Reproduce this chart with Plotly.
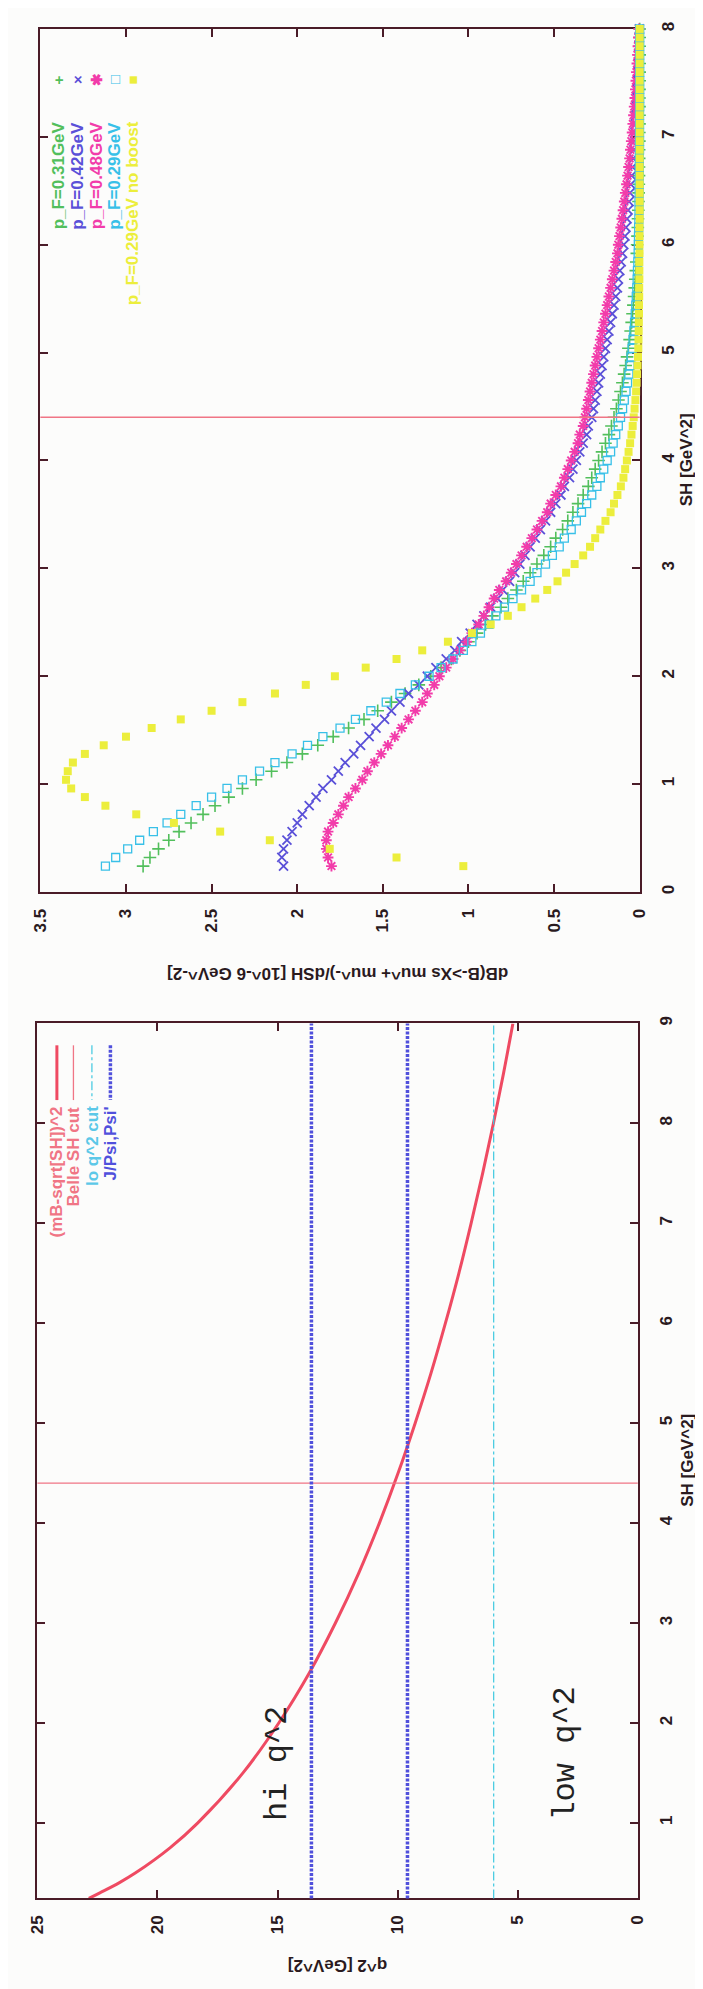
import plotly.graph_objects as go

W, H = 703, 1989

# ---------------- data: top panel (dB/dSH vs SH) ----------------
sh_top = [0.24, 0.32, 0.40, 0.48, 0.56, 0.64, 0.72, 0.80, 0.88, 0.96,
          1.04, 1.12, 1.20, 1.28, 1.36, 1.44, 1.52, 1.60, 1.68, 1.76,
          1.84, 1.92, 2.00, 2.08, 2.16, 2.24, 2.32, 2.40, 2.48, 2.56,
          2.64, 2.72, 2.80, 2.88, 2.96, 3.04, 3.12, 3.20, 3.28, 3.36,
          3.44, 3.52, 3.60, 3.68, 3.76, 3.84, 3.92, 4.00, 4.08, 4.16,
          4.24, 4.32, 4.40, 4.48, 4.56, 4.64, 4.72, 4.80, 4.88, 4.96,
          5.04, 5.12, 5.20, 5.28, 5.36, 5.44, 5.52, 5.60, 5.68, 5.76,
          5.84, 5.92, 6.00, 6.08, 6.16, 6.24, 6.32, 6.40, 6.48, 6.56,
          6.64, 6.72, 6.80, 6.88, 6.96, 7.04, 7.12, 7.20, 7.28, 7.36,
          7.44, 7.52, 7.60, 7.68, 7.76, 7.84, 7.92, 8.00]

db_pf031 = [2.90, 2.86, 2.81, 2.75, 2.69, 2.62, 2.55, 2.48, 2.40, 2.32,
            2.24, 2.15, 2.06, 1.97, 1.88, 1.79, 1.70, 1.61, 1.53, 1.45,
            1.37, 1.29, 1.22, 1.16, 1.10, 1.05, 1.00, 0.95, 0.90, 0.86,
            0.81, 0.77, 0.72, 0.68, 0.64, 0.60, 0.56, 0.52, 0.49, 0.45,
            0.42, 0.39, 0.36, 0.33, 0.30, 0.28, 0.26, 0.24, 0.22, 0.20,
            0.18, 0.165, 0.15, 0.136, 0.124, 0.112, 0.101, 0.091, 0.082, 0.074,
            0.066, 0.059, 0.053, 0.047, 0.042, 0.037, 0.033, 0.029, 0.026, 0.023,
            0.020, 0.017, 0.015, 0.013, 0.011, 0.010, 0.008, 0.007, 0.006, 0.005,
            0.004, 0.004, 0.003, 0.003, 0.002, 0.002, 0.001, 0.001, 0.001, 0.001,
            0.001, 0.0, 0.0, 0.0, 0.0, 0.0, 0.0, 0.0]

db_pf042 = [2.08, 2.09, 2.08, 2.06, 2.03, 2.00, 1.97, 1.93, 1.89, 1.85,
            1.80, 1.76, 1.72, 1.67, 1.63, 1.58, 1.54, 1.49, 1.45, 1.40,
            1.35, 1.29, 1.24, 1.19, 1.13, 1.08, 1.04, 0.99, 0.95, 0.91,
            0.87, 0.83, 0.80, 0.76, 0.73, 0.70, 0.67, 0.64, 0.61, 0.58,
            0.55, 0.52, 0.49, 0.46, 0.44, 0.41, 0.39, 0.37, 0.35, 0.33,
            0.31, 0.30, 0.28, 0.27, 0.26, 0.25, 0.24, 0.23, 0.22, 0.21,
            0.20, 0.19, 0.18, 0.17, 0.16, 0.15, 0.14, 0.13, 0.124, 0.116,
            0.108, 0.100, 0.093, 0.086, 0.080, 0.074, 0.068, 0.062, 0.057, 0.052,
            0.047, 0.042, 0.038, 0.034, 0.030, 0.027, 0.024, 0.021, 0.018, 0.016,
            0.014, 0.012, 0.010, 0.008, 0.006, 0.005, 0.003, 0.002]

db_pf048 = [1.80, 1.82, 1.83, 1.83, 1.82, 1.79, 1.76, 1.73, 1.70, 1.66,
            1.62, 1.59, 1.55, 1.51, 1.47, 1.43, 1.39, 1.35, 1.31, 1.27,
            1.24, 1.20, 1.17, 1.13, 1.09, 1.05, 1.01, 0.98, 0.94, 0.91,
            0.88, 0.85, 0.82, 0.78, 0.75, 0.72, 0.69, 0.66, 0.63, 0.60,
            0.57, 0.54, 0.52, 0.49, 0.46, 0.44, 0.42, 0.40, 0.38, 0.36,
            0.35, 0.33, 0.32, 0.31, 0.30, 0.29, 0.28, 0.27, 0.26, 0.25,
            0.24, 0.23, 0.22, 0.21, 0.20, 0.19, 0.18, 0.17, 0.16, 0.15,
            0.14, 0.13, 0.125, 0.118, 0.111, 0.104, 0.097, 0.090, 0.084, 0.077,
            0.071, 0.065, 0.059, 0.054, 0.049, 0.044, 0.040, 0.036, 0.032, 0.028,
            0.025, 0.022, 0.019, 0.016, 0.013, 0.010, 0.007, 0.004]

db_pf029 = [3.12, 3.06, 2.99, 2.92, 2.84, 2.76, 2.68, 2.59, 2.50, 2.41,
            2.32, 2.22, 2.13, 2.03, 1.94, 1.85, 1.75, 1.66, 1.57, 1.48,
            1.40, 1.31, 1.23, 1.16, 1.09, 1.03, 0.98, 0.93, 0.88, 0.84,
            0.79, 0.74, 0.69, 0.64, 0.60, 0.55, 0.51, 0.47, 0.44, 0.40,
            0.37, 0.34, 0.31, 0.28, 0.25, 0.23, 0.21, 0.19, 0.17, 0.155,
            0.14, 0.125, 0.112, 0.10, 0.09, 0.08, 0.071, 0.063, 0.056, 0.050,
            0.044, 0.039, 0.034, 0.030, 0.026, 0.023, 0.020, 0.017, 0.015, 0.013,
            0.011, 0.009, 0.008, 0.007, 0.006, 0.005, 0.004, 0.004, 0.003, 0.003,
            0.002, 0.002, 0.002, 0.001, 0.001, 0.001, 0.001, 0.001, 0.0, 0.0,
            0.0, 0.0, 0.0, 0.0, 0.0, 0.0, 0.0, 0.0]

db_pf029_noboost = [1.03, 1.42, 1.81, 2.16, 2.45, 2.72, 2.94, 3.12, 3.24, 3.32,
                    3.35, 3.34, 3.31, 3.24, 3.13, 3.00, 2.85, 2.68, 2.50, 2.32,
                    2.13, 1.95, 1.78, 1.60, 1.42, 1.27, 1.12, 0.98, 0.87, 0.77,
                    0.69, 0.61, 0.54, 0.48, 0.43, 0.38, 0.33, 0.29, 0.26, 0.23,
                    0.20, 0.17, 0.15, 0.13, 0.11, 0.095, 0.085, 0.075, 0.065, 0.056,
                    0.048, 0.041, 0.035, 0.030, 0.025, 0.021, 0.018, 0.015, 0.012, 0.010,
                    0.008, 0.007, 0.006, 0.005, 0.004, 0.004, 0.003, 0.003, 0.002, 0.002,
                    0.002, 0.001, 0.001, 0.001, 0.001, 0.0, 0.0, 0.0, 0.0, 0.0,
                    0.0, 0.0, 0.0, 0.0, 0.0, 0.0, 0.0, 0.0, 0.0, 0.0,
                    0.0, 0.0, 0.0, 0.0, 0.0, 0.0, 0.0, 0.0]

top_labels = ["p_F=0.31GeV", "p_F=0.42GeV", "p_F=0.48GeV", "p_F=0.29GeV", "p_F=0.29GeV no boost"]

# ---------------- data: bottom panel (q^2 vs SH) ----------------
sh_kin = [0.244, 0.30, 0.40, 0.50, 0.75, 1.0, 1.5, 2.0, 2.5, 3.0, 3.5,
          4.0, 4.5, 5.0, 5.5, 6.0, 6.5, 7.0, 7.5, 8.0, 8.5, 9.0]
q2_kin = [22.86, 22.40, 21.60, 20.91, 19.48, 18.32, 16.44, 14.95, 13.68, 12.59, 11.62,
          10.76, 9.98, 9.27, 8.61, 8.01, 7.45, 6.94, 6.46, 6.01, 5.59, 5.20]
belle_sh_cut = 4.4
lo_q2_cut = 6.0
charmonium_q2 = [9.59, 13.59]
bottom_labels = ["(mB-sqrt[SH])^2", "Belle SH cut", "lo q^2 cut", "J/Psi,Psi'"]

db_ticks = [0, 0.5, 1, 1.5, 2, 2.5, 3, 3.5]
q2_ticks = [0, 5, 10, 15, 20, 25]

# ---------------- style ----------------
FRAME = "#4a1c28"
TXT = "#2a1a1e"
BG = "#fcfcfb"
C_GREEN = "#52bf5c"
C_BLUE = "#5a50d8"
C_MAG = "#f23caa"
C_CYAN = "#38c0e8"
C_YEL = "#ecee3c"
C_RED = "#ef4a62"
C_BELLE = "#f07585"
C_LOCUT = "#3ec8e0"
C_JPSI = "#5050dc"
FONT = "Liberation Sans"


def px(x):
    return x / W


def py(y):
    return 1 - y / H


fig = go.Figure()

series = [
    (db_pf031, top_labels[0], C_GREEN, "cross-thin-open", 9, 1.6),
    (db_pf042, top_labels[1], C_BLUE, "x-thin-open", 9, 1.8),
    (db_pf048, top_labels[2], C_MAG, "asterisk-open", 9, 1.9),
    (db_pf029, top_labels[3], C_CYAN, "square-open", 8, 1.3),
    (db_pf029_noboost, top_labels[4], C_YEL, "square", 8, 0),
]
for vals, name, col, sym, size, lw in series:
    fig.add_trace(go.Scatter(
        x=vals, y=sh_top, mode="markers", name=name, xaxis="x", yaxis="y",
        cliponaxis=False,
        marker=dict(symbol=sym, size=size, color=col, line=dict(color=col, width=lw)),
    ))

fig.add_trace(go.Scatter(
    x=q2_kin, y=sh_kin, mode="lines", name=bottom_labels[0], xaxis="x2", yaxis="y2",
    line=dict(color=C_RED, width=3, shape="spline"),
))

tickfont = dict(family=FONT, size=17, color=TXT, weight="bold")
common = dict(showline=True, linecolor=FRAME, linewidth=2, mirror="ticks",
              ticks="inside", ticklen=8, tickwidth=2, tickcolor=FRAME,
              showgrid=False, zeroline=False, tickangle=-90, tickfont=tickfont)

fig.update_layout(
    width=W, height=H, margin=dict(l=0, r=0, t=0, b=0),
    paper_bgcolor=BG, plot_bgcolor=BG, showlegend=False,
    xaxis=dict(domain=[px(24), px(640)], range=[3.5, 0], anchor="y",
               tickvals=db_ticks, ticklabelstandoff=8, layer="below traces", **common),
    yaxis=dict(domain=[py(881), py(14)], range=[0, 8], anchor="x", side="right",
               dtick=1, ticklabelstandoff=12, layer="below traces", **common),
    xaxis2=dict(domain=[px(21), px(638)], range=[25, 0], anchor="y2",
                tickvals=q2_ticks, ticklabelstandoff=8, **common),
    yaxis2=dict(domain=[py(1892), py(1013)], range=[sh_kin[0], 9], anchor="x2", side="right",
                tickvals=[1, 2, 3, 4, 5, 6, 7, 8, 9], ticklabelstandoff=12, **common),
)

shapes = []
shapes.append(dict(type="line", xref="x domain", x0=0, x1=1, yref="y",
                   y0=belle_sh_cut, y1=belle_sh_cut, line=dict(color=C_BELLE, width=1.4)))
shapes.append(dict(type="line", xref="x2 domain", x0=0, x1=1, yref="y2",
                   y0=belle_sh_cut, y1=belle_sh_cut, line=dict(color=C_BELLE, width=1.4)))
shapes.append(dict(type="line", xref="x2", x0=lo_q2_cut, x1=lo_q2_cut, yref="y2 domain",
                   y0=0, y1=1, line=dict(color=C_LOCUT, width=1.2, dash="dashdot")))
for q in charmonium_q2:
    shapes.append(dict(type="line", xref="x2", x0=q, x1=q, yref="y2 domain",
                       y0=0, y1=1, line=dict(color=C_JPSI, width=3.5, dash="3px,1.5px")))

leg_b = [(41, C_RED, 3, "solid"), (58, C_BELLE, 1.3, "solid"),
         (77, C_LOCUT, 1.2, "dashdot"), (96, C_JPSI, 3.5, "3px,1.5px")]
for x, col, w, d in leg_b:
    shapes.append(dict(type="line", xref="paper", yref="paper", x0=px(x), x1=px(x),
                       y0=py(1035), y1=py(1090), line=dict(color=col, width=w, dash=d)))

fig.update_layout(shapes=shapes)

ann = []


def A(text, x, y, angle, size=17, color=TXT, weight="bold", xa="center", ya="middle",
      family=FONT, xref="paper", yref="paper"):
    d = dict(text=text, showarrow=False, textangle=angle, xanchor=xa, yanchor=ya,
             font=dict(family=family, size=size, color=color, weight=weight),
             xref=xref, yref=yref)
    if xref == "paper":
        d["x"] = px(x)
        d["y"] = py(y)
    else:
        d["x"] = x
        d["y"] = y
    return d


ann.append(A("dB(B-&gt;Xs mu^+ mu^-)/dSH [10^-6 GeV^-2]", 330, 963, 180, size=17))
ann.append(A("SH [GeV^2]", 689, 447, -90, size=17))
ann.append(A("SH [GeV^2]", 689, 1452, -90, size=17))
ann.append(A("q^2 [GeV^2]", 330, 1960, 180, size=17))

top_cols = [43, 62, 82, 100, 119]
top_syms = ["+", "×", "✱", "□", "■"]
top_cols_c = [C_GREEN, C_BLUE, C_MAG, C_CYAN, C_YEL]
for x, s, c, t in zip(top_cols, top_syms, top_cols_c, top_labels):
    ann.append(A(s, x, 65, -90, size=15, color=c))
    ann.append(A(t, x, 105, -90, size=17, color=c, ya="top"))

bot_cols = [41, 58, 77, 96]
bot_cols_c = [C_BELLE, C_BELLE, "#5cc8e8", C_JPSI]
for x, c, t in zip(bot_cols, bot_cols_c, bottom_labels):
    ann.append(A(t, x, 1094, -90, size=17, color=c, ya="top"))

ann.append(A("hi q^2", 15, 1.0, -90, size=32, color="#222222", weight="normal",
             xa="center", ya="bottom", family="Liberation Mono", xref="x2", yref="y2"))
ann.append(A("low q^2", 3, 1.0, -90, size=32, color="#222222", weight="normal",
             xa="center", ya="bottom", family="Liberation Mono", xref="x2", yref="y2"))

fig.update_layout(annotations=ann)

fig.write_html("out.html")
